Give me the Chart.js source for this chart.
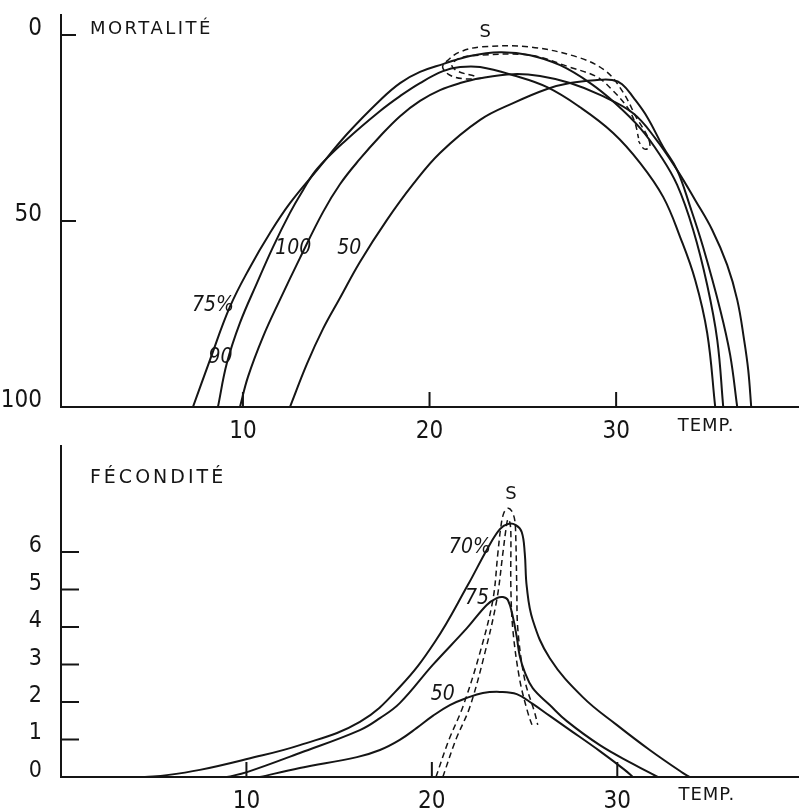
<!DOCTYPE html>
<html>
<head>
<meta charset="utf-8">
<script src="https://cdn.jsdelivr.net/npm/chart.js@4.4.1/dist/chart.umd.min.js"></script>
<style>
  body { margin: 0; background: #fff; }
  canvas { position: absolute; left: 0; }
  #mort { top: 0; }
  #fec { top: 440px; }
</style>
</head>
<body>
<canvas id="mort" width="799" height="440"></canvas>
<canvas id="fec" width="799" height="370"></canvas>
<script>
// tick labels
var tempTicks = [10, 20, 30];
var mortTicks = [0, 50, 100];
var fecTicks = [0, 1, 2, 3, 4, 5, 6];

// mortality (%) against temperature, one curve per humidity
var m75T = [7.32, 8.23, 9.30, 10.38, 11.45, 12.52, 13.97, 15.58, 17.35, 18.42, 19.49, 20.72, 22.17, 23.78, 25.39, 27.00, 28.61, 29.95, 31.29, 32.36, 33.27, 34.13, 34.88, 35.42, 35.74];
var m75V = [100, 87.4, 73.1, 62.4, 53.2, 45.2, 36.3, 26.6, 17.5, 12.9, 9.9, 7.8, 5.6, 4.6, 5.4, 8.1, 12.9, 18.3, 25.0, 32.3, 40.3, 52.4, 67.2, 82.0, 100];

var m90T = [8.66, 9.14, 9.84, 10.75, 11.61, 12.52, 13.22, 13.97, 15.58, 17.35, 18.42, 19.49, 20.72, 21.64, 22.71, 24.48, 26.30, 28.07, 29.84, 31.29, 32.52, 33.43, 34.24, 34.88, 35.31];
var m90V = [100, 88.2, 77.4, 66.7, 57.0, 47.8, 41.7, 36.0, 28.0, 20.4, 16.4, 12.9, 9.7, 8.6, 8.6, 10.8, 14.0, 19.4, 26.3, 34.4, 43.5, 54.3, 65.9, 80.1, 100];

var m100T = [9.84, 10.27, 11.07, 11.98, 13.06, 14.29, 15.20, 16.27, 17.35, 18.42, 19.49, 20.56, 21.64, 22.71, 24.48, 25.92, 27.53, 29.14, 30.91, 32.09, 33.27, 34.24, 35.15, 35.95, 36.49, 36.86, 37.08, 37.24];
var m100V = [100, 91.9, 81.2, 71.2, 59.9, 47.6, 40.1, 33.3, 27.2, 21.8, 17.7, 14.8, 12.9, 11.6, 10.5, 11.0, 12.9, 16.1, 21.0, 27.7, 36.3, 44.4, 52.4, 61.8, 71.2, 82.0, 90.1, 100];

var m50T = [12.52, 13.43, 14.29, 15.20, 16.27, 17.72, 19.12, 20.56, 22.71, 24.48, 26.30, 27.53, 28.98, 29.79, 30.32, 30.91, 31.66, 32.52, 33.27, 33.97, 34.66, 35.58, 36.11, 36.49];
var m50V = [100, 88.4, 79.0, 70.7, 61.0, 49.7, 40.1, 31.7, 22.8, 18.3, 14.5, 12.9, 12.1, 12.1, 13.2, 16.7, 22.0, 30.1, 36.3, 46.2, 57.0, 73.9, 86.0, 100];

// dashed "S" outline, mortality panel
var sOutT = [22.8, 21.9, 21.1, 20.7, 21.0, 21.6, 22.7, 25.4, 28.1, 29.5, 30.4, 31.1, 31.7, 31.8, 31.5, 31.2];
var sOutV = [11.6, 11.8, 10.8, 8.6, 6.7, 4.6, 3.2, 3.2, 6.2, 9.9, 15.6, 22.3, 27.4, 30.1, 30.6, 28.5];
var sInT = [22.4, 21.5, 21.2, 21.6, 22.7, 25.4, 27.5, 29.0, 29.8, 30.6, 31.0, 31.2];
var sInV = [11.0, 9.7, 8.1, 6.2, 5.4, 5.4, 8.6, 11.3, 14.8, 19.4, 23.4, 27.7];

// fecundity against temperature
var f70T = [4.53, 5.71, 7.49, 10.03, 12.88, 16.12, 18.27, 20.16, 21.94, 23.02, 23.67, 24.10, 24.53, 24.85, 25.01, 25.12, 25.44, 26.36, 28.14, 29.97, 31.75, 33.53, 33.91];
var f70V = [0, 0.05, 0.19, 0.48, 0.85, 1.47, 2.40, 3.60, 5.12, 6.11, 6.61, 6.75, 6.72, 6.53, 5.97, 5.07, 4.19, 3.17, 2.13, 1.39, 0.72, 0.11, 0];

var f75T = [8.95, 10.03, 12.88, 16.12, 17.20, 18.27, 20.05, 21.89, 22.96, 23.50, 23.83, 24.10, 24.37, 24.58, 24.74, 25.01, 25.44, 26.36, 27.28, 29.06, 30.84, 32.18];
var f75V = [0, 0.13, 0.64, 1.25, 1.57, 1.97, 2.99, 3.97, 4.59, 4.77, 4.80, 4.72, 4.27, 3.73, 3.23, 2.80, 2.37, 1.92, 1.49, 0.85, 0.35, 0];

var f50T = [10.73, 12.88, 15.96, 17.20, 18.27, 19.19, 20.05, 20.97, 21.89, 22.75, 23.67, 24.58, 25.44, 26.36, 27.28, 29.06, 30.40, 30.84];
var f50V = [0, 0.24, 0.53, 0.72, 0.99, 1.31, 1.63, 1.92, 2.11, 2.24, 2.27, 2.21, 1.95, 1.63, 1.31, 0.69, 0.19, 0];

// dashed "S" outline, fecundity panel
var sfOutT = [20.22, 20.92, 21.67, 22.59, 23.29, 23.56, 23.72, 23.88, 24.10, 24.31, 24.47, 24.53, 24.58, 24.64, 25.01, 25.55, 25.71];
var sfOutV = [0, 0.99, 1.87, 3.31, 4.72, 5.97, 6.67, 7.04, 7.17, 7.09, 6.85, 6.32, 5.07, 3.92, 2.59, 1.71, 1.39];
var sfInT = [20.59, 21.29, 22.05, 22.86, 23.50, 23.83, 23.99, 24.10, 24.20, 24.26, 24.26, 24.37, 24.74, 25.18, 25.44];
var sfInV = [0, 0.99, 1.87, 3.31, 4.72, 5.97, 6.59, 6.88, 6.80, 6.53, 5.07, 3.92, 2.59, 1.71, 1.33];

var ink = '#151515';
var narrow = "'DejaVu Sans Condensed', 'DejaVu Sans', sans-serif";
var plain = "'DejaVu Sans', sans-serif";

// text notes, placed in data units (temperature, value)
var mortNotes = [
  {text: 'MORTALITÉ', t: 1.8, v: -1.6, font: '18px ' + plain, gap: '2.5px'},
  {text: 'S', t: 22.98, v: -0.8, font: '18px ' + plain, align: 'center'},
  {text: '75%', t: 8.4, v: 72.6, font: 'italic 21px ' + narrow, align: 'center'},
  {text: '90', t: 8.8, v: 86.8, font: 'italic 21px ' + narrow, align: 'center'},
  {text: '100', t: 12.7, v: 57.5, font: 'italic 21px ' + narrow, align: 'center'},
  {text: '50', t: 15.7, v: 57.5, font: 'italic 21px ' + narrow, align: 'center'},
  {text: 'TEMP.', t: 33.3, v: 105.1, font: '18px ' + plain, gap: '1px'}
];
var fecNotes = [
  {text: 'FÉCONDITÉ', t: 1.56, v: 7.97, font: '19px ' + plain, gap: '3px'},
  {text: 'S', t: 24.26, v: 7.55, font: '18px ' + plain, align: 'center'},
  {text: '70%', t: 22.05, v: 6.13, font: 'italic 21px ' + narrow, align: 'center'},
  {text: '75', t: 22.43, v: 4.77, font: 'italic 21px ' + narrow, align: 'center'},
  {text: '50', t: 20.59, v: 2.19, font: 'italic 21px ' + narrow, align: 'center'},
  {text: 'TEMP.', t: 33.3, v: -0.48, font: '18px ' + plain, gap: '1px'}
];

function pts(xs, ys) {
  return xs.map(function(x, i) { return {x: x, y: ys[i]}; });
}

function curve(xs, ys) {
  return {data: pts(xs, ys), showLine: true, borderColor: ink, borderWidth: 2, pointRadius: 0, tension: 0.4, fill: false};
}

function dashed(xs, ys) {
  return {data: pts(xs, ys), showLine: true, borderColor: ink, borderWidth: 1.5, borderDash: [6, 4], pointRadius: 0, tension: 0.35, fill: false};
}

// ticks are drawn inward, plus the hand lettering
var inkPlugin = {
  id: 'ink',
  afterDraw: function(chart, args, o) {
    var ctx = chart.ctx, area = chart.chartArea;
    var xs = chart.scales.x, ys = chart.scales.y;
    ctx.save();
    ctx.strokeStyle = ink;
    ctx.fillStyle = ink;
    ctx.lineWidth = 2;
    ctx.beginPath();
    tempTicks.forEach(function(v) {
      var px = xs.getPixelForValue(v);
      ctx.moveTo(px, area.bottom);
      ctx.lineTo(px, area.bottom - 15);
    });
    o.yTicks.forEach(function(v) {
      var py = ys.getPixelForValue(v);
      ctx.moveTo(area.left, py);
      ctx.lineTo(area.left + o.tickLen, py);
    });
    ctx.stroke();
    ctx.textBaseline = 'middle';
    o.notes.forEach(function(n) {
      ctx.font = n.font;
      ctx.letterSpacing = n.gap || '0px';
      ctx.textAlign = n.align || 'left';
      ctx.fillText(n.text, xs.getPixelForValue(n.t), ys.getPixelForValue(n.v));
    });
    ctx.restore();
  }
};

function axisX(min, max, pad) {
  return {
    type: 'linear', min: min, max: max,
    afterBuildTicks: function(s) { s.ticks = tempTicks.map(function(v) { return {value: v}; }); },
    afterFit: function(s) { s.height = 33; s.paddingLeft = 0; s.paddingRight = 0; },
    grid: {display: false, drawTicks: false, tickLength: 0},
    border: {display: true, color: ink, width: 2},
    ticks: {color: ink, padding: pad, font: {family: narrow, size: 24}, maxRotation: 0}
  };
}

function axisY(min, max, ticks, rev, size) {
  return {
    type: 'linear', min: min, max: max, reverse: rev,
    afterBuildTicks: function(s) { s.ticks = ticks.map(function(v) { return {value: v}; }); },
    afterFit: function(s) { s.width = 61; s.paddingTop = 0; s.paddingBottom = 0; },
    grid: {display: false, drawTicks: false, tickLength: 0},
    border: {display: true, color: ink, width: 2},
    ticks: {color: ink, padding: 19, labelOffset: -6, font: {family: narrow, size: size}}
  };
}

new Chart(document.getElementById('mort'), {
  type: 'scatter',
  data: {
    datasets: [
      curve(m75T, m75V), curve(m90T, m90V), curve(m100T, m100V), curve(m50T, m50V),
      dashed(sOutT, sOutV), dashed(sInT, sInV)
    ]
  },
  options: {
    responsive: false,
    animation: false,
    layout: {padding: {top: 15, left: 0, right: 0, bottom: 0}},
    plugins: {
      legend: {display: false},
      tooltip: {enabled: false},
      ink: {yTicks: [0, 50], tickLen: 15, notes: mortNotes}
    },
    scales: {
      x: axisX(0.25, 39.8, 10),
      y: axisY(-5.4, 100, mortTicks, true, 24)
    }
  },
  plugins: [inkPlugin]
});

new Chart(document.getElementById('fec'), {
  type: 'scatter',
  data: {
    datasets: [
      curve(f70T, f70V), curve(f75T, f75V), curve(f50T, f50V),
      dashed(sfOutT, sfOutV), dashed(sfInT, sfInV)
    ]
  },
  options: {
    responsive: false,
    animation: false,
    layout: {padding: {top: 6, left: 0, right: 0, bottom: 0}},
    plugins: {
      legend: {display: false},
      tooltip: {enabled: false},
      ink: {yTicks: [1, 2, 3, 4, 5, 6], tickLen: 18, notes: fecNotes}
    },
    scales: {
      x: axisX(0, 39.8, 10),
      y: axisY(0, 8.83, fecTicks, false, 23)
    }
  },
  plugins: [inkPlugin]
});
</script>
</body>
</html>
